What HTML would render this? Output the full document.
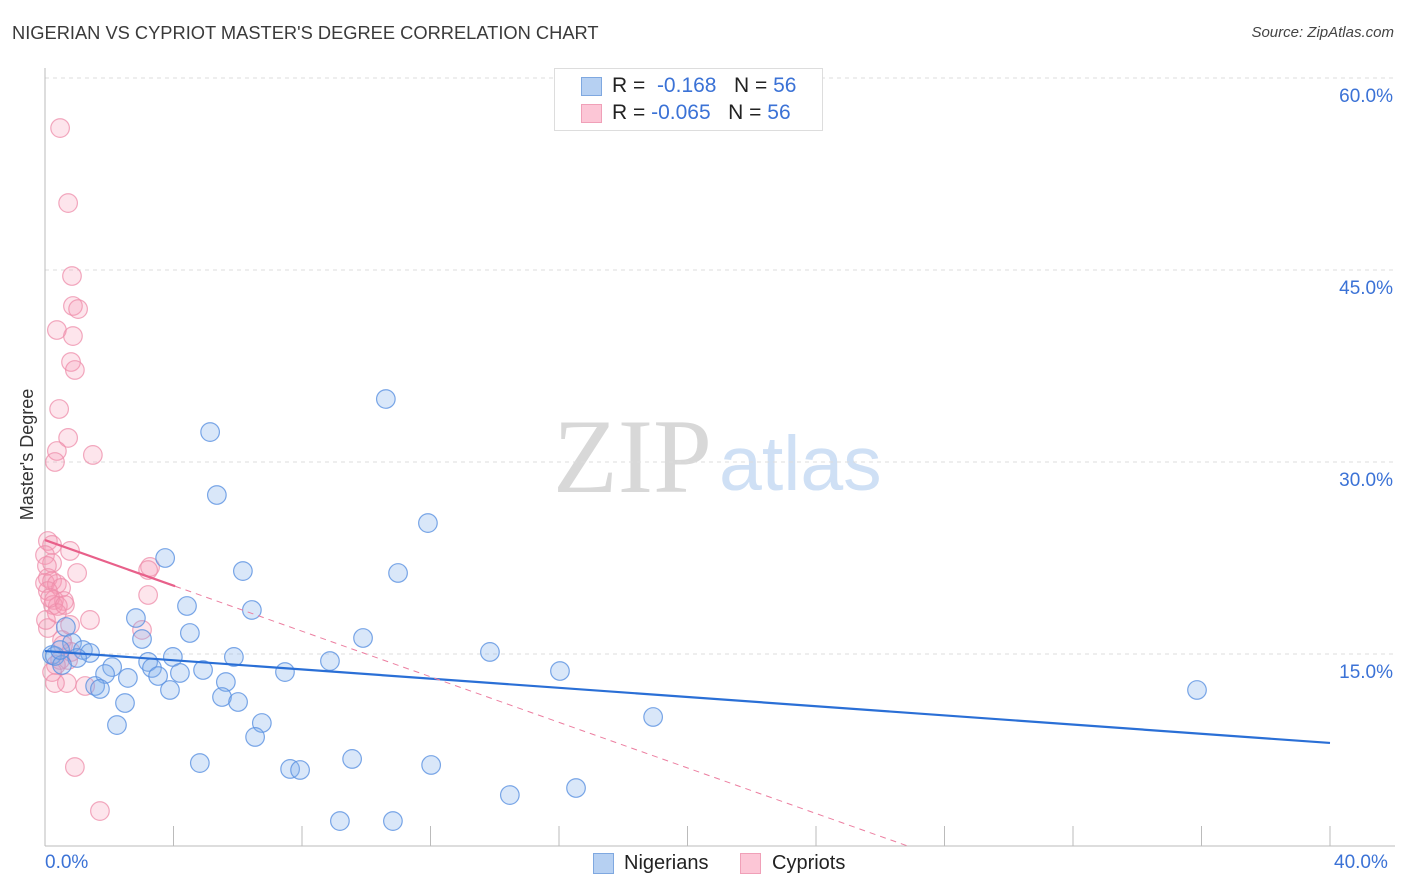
<!DOCTYPE html>
<html><head><meta charset="utf-8"><style>
body{margin:0;background:#fff;font-family:"Liberation Sans",sans-serif;}
#wrap{position:relative;width:1406px;height:892px;overflow:hidden;}
.t{position:absolute;white-space:nowrap;}
</style></head><body>
<div id="wrap">
<div class="t" style="left:12px;top:22px;font-size:18.3px;color:#3a3a3a;">NIGERIAN VS CYPRIOT MASTER'S DEGREE CORRELATION CHART</div>
<div class="t" style="right:12px;top:24px;font-size:15px;color:#444;font-style:italic;">Source: ZipAtlas.com</div>
<div class="t" style="left:-38px;top:444px;font-size:18px;color:#333;transform:rotate(-90deg);">Master's Degree</div>
<svg id="svg" width="1406" height="892" style="position:absolute;left:0;top:0">
<text x="553" y="492" font-family="Liberation Serif,serif" font-size="106" fill="#d8d8d8">ZIP</text>
<text x="719" y="490" font-family="Liberation Sans,sans-serif" font-size="77" fill="#cfe0f5">atlas</text>
</svg>
<div style="position:absolute;left:554px;top:68px;width:267px;height:61px;border:1px solid #ddd;background:#fff;">
<div style="position:absolute;left:26px;top:8px;width:19px;height:17px;background:#b6d0f2;border:1px solid #7fa8e0;"></div>
<div style="position:absolute;left:26px;top:35px;width:19px;height:17px;background:#fcc6d6;border:1px solid #f0a0b8;"></div>
<div class="t" style="left:57px;top:5px;font-size:21px;color:#222;">R = &nbsp;<span style="color:#3b72d6">-0.168</span> &nbsp; N = <span style="color:#3b72d6">56</span></div>
<div class="t" style="left:57px;top:32px;font-size:21px;color:#222;">R = <span style="color:#3b72d6">-0.065</span> &nbsp; N = <span style="color:#3b72d6">56</span></div>
</div>
<div class="t" style="left:45px;top:852px;font-size:19px;color:#3b72d6;">0.0%</div>
<div class="t" style="left:1334px;top:852px;font-size:19px;color:#3b72d6;">40.0%</div>
<div style="position:absolute;left:593px;top:853px;width:19px;height:19px;background:#b6d0f2;border:1px solid #7fa8e0;"></div>
<div class="t" style="left:624px;top:852px;font-size:20px;color:#222;">Nigerians</div>
<div style="position:absolute;left:740px;top:853px;width:19px;height:19px;background:#fcc6d6;border:1px solid #f0a0b8;"></div>
<div class="t" style="left:772px;top:852px;font-size:20px;color:#222;">Cypriots</div>
</div>
<script>
const yTicks=[15,30,45,60];
const xTickVals=[0,4,8,12,16,20,24,28,32,36,40];
const nigX=[10.61,5.14,5.35,11.92,3.74,6.16,10.99,4.42,6.44,2.83,4.51,9.9,3.02,13.85,16.03,35.86,18.93,0.65,0.84,1.18,1.4,0.22,0.31,1.0,3.21,3.98,2.09,5.88,8.87,4.92,7.47,4.2,3.33,3.52,1.87,2.58,1.56,1.71,5.63,3.89,5.51,6.01,2.49,6.75,2.24,6.54,4.82,9.56,12.02,7.63,7.94,14.47,16.53,9.18,10.83,0.53,0.47];
const nigY=[34.92,32.34,27.42,25.23,22.5,21.48,21.33,18.75,18.44,17.81,16.64,16.25,16.17,15.16,13.67,12.19,10.08,17.11,15.86,15.31,15.08,14.92,14.84,14.69,14.38,14.77,13.98,14.77,14.45,13.75,13.59,13.52,13.91,13.28,13.44,13.13,12.5,12.27,12.81,12.19,11.64,11.25,11.17,9.61,9.45,8.52,6.48,6.8,6.33,6.02,5.94,3.98,4.53,1.95,1.95,14.14,15.31];
const cypX=[0.47,0.72,0.84,0.87,1.03,0.37,0.87,0.81,0.93,0.44,0.72,0.37,1.49,0.31,0.09,0.22,0.78,0,0.22,0.06,3.27,3.21,1.0,0.09,0,0.22,0.37,0.5,0.09,3.21,0.28,0.59,0.25,0.4,1.4,0.78,3.02,0.09,0.56,0.81,0.47,0.72,0.34,0.22,0.68,0.31,1.25,0.93,1.71,0.37,0.53,0.16,0.62,0.03];
const cypY=[56.09,50.23,44.53,42.19,41.95,40.31,39.84,37.81,37.19,34.14,31.88,30.86,30.55,30.0,23.83,23.52,23.05,22.73,22.11,21.88,21.8,21.56,21.33,20.94,20.55,20.7,20.47,20.16,19.92,19.61,19.22,19.14,18.83,18.75,17.66,17.27,16.88,17.03,15.7,15.16,14.53,14.53,14.14,13.59,12.73,12.73,12.5,6.17,2.73,18.2,16.09,19.38,18.83,17.66];
const nigTrend=[15.23,8.05]; // value at x=0 and x=40
const cypTrend=[23.9,-0.89]; // intercept, slope per %
const cypSolidEnd=4.05;
const sx=v=>45+v*32.125, sy=v=>846-v*12.8;
const NS='http://www.w3.org/2000/svg', svg=document.getElementById('svg');
function mk(tag,attrs){const e=document.createElementNS(NS,tag);for(const k in attrs)e.setAttribute(k,attrs[k]);svg.appendChild(e);return e;}
yTicks.forEach(v=>{
 const g=mk('line',{x1:45,x2:1395,y1:sy(v),y2:sy(v),stroke:'#ddd','stroke-dasharray':'4,4'});
 
 
 const t=mk('text',{x:1393,y:sy(v)+24,'text-anchor':'end','font-size':19,fill:'#3b72d6','font-family':'Liberation Sans,sans-serif'});
 t.textContent=v.toFixed(1)+'%';
 
 
});
const ax=mk('line',{x1:45,x2:45,y1:68,y2:846,stroke:'#bbb'});


const bx=mk('line',{x1:45,x2:1395,y1:846,y2:846,stroke:'#bbb'});


xTickVals.forEach(v=>{
 const l=mk('line',{x1:sx(v),x2:sx(v),y1:826,y2:846,stroke:'#bbb'});
 
 
});
function pts(X,Y,fill,stroke,name){X.forEach((x,i)=>{
 const c=mk('circle',{cx:sx(x),cy:sy(Y[i]),r:9.3,fill:fill,stroke:stroke,'stroke-width':1.2});
 
 
});}
pts(cypX,cypY,'rgba(246,150,180,0.25)','rgba(238,140,170,0.75)','cypriot-point');
pts(nigX,nigY,'rgba(130,175,235,0.3)','rgba(90,145,225,0.8)','nigerian-point');
const bl=mk('line',{x1:sx(0),y1:sy(nigTrend[0]),x2:sx(40),y2:sy(nigTrend[1]),stroke:'#2a6fd6','stroke-width':2.2});


const xe=-cypTrend[0]/cypTrend[1];
const pd=mk('line',{x1:sx(cypSolidEnd),y1:sy(cypTrend[0]+cypTrend[1]*cypSolidEnd),x2:sx(xe),y2:sy(0),stroke:'#ec7ea0','stroke-width':1,'stroke-dasharray':'6,5'});


const pl=mk('line',{x1:sx(0),y1:sy(cypTrend[0]),x2:sx(cypSolidEnd),y2:sy(cypTrend[0]+cypTrend[1]*cypSolidEnd),stroke:'#e8608a','stroke-width':2.2});


</script>
</body></html>
